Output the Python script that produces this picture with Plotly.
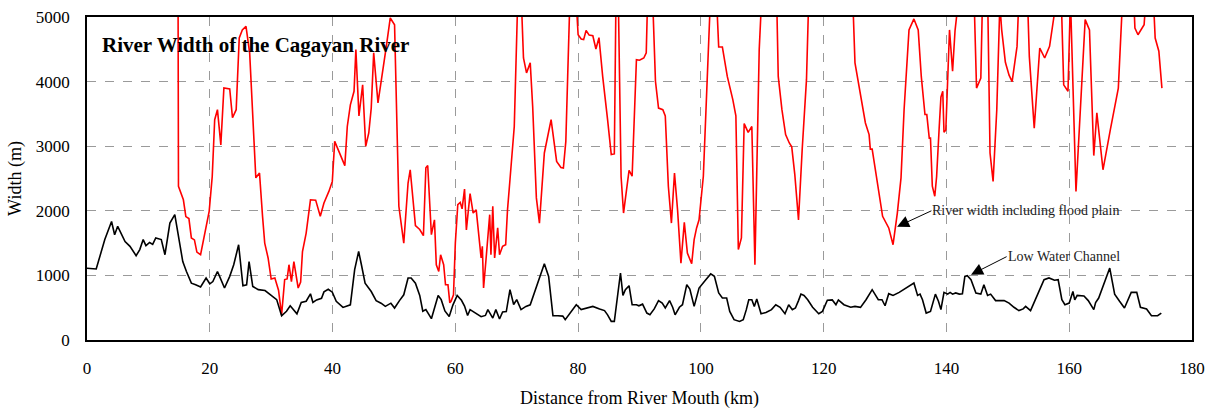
import plotly.graph_objects as go

# Red: River width including flood plain (km, m)
red_km = [14.75, 14.9, 15.7, 16.1, 16.6, 17.0, 17.5, 17.9, 18.5, 19.2, 19.9, 20.4, 20.8, 21.25, 21.8, 22.3, 23.25, 23.7, 24.3, 24.8,
          25.3, 25.9, 26.5, 27.5, 28.1, 28.6, 28.95, 29.5, 30.0, 30.6, 31.2, 31.7, 32.2, 32.6, 32.9, 33.3, 33.7, 34.4, 34.8, 35.1,
          35.7, 36.4, 37.25, 38.0, 38.6, 39.4, 39.96, 40.35, 41.2, 42.0, 42.4, 42.9, 43.5, 43.8, 44.3, 44.9, 45.4, 45.9, 46.3, 46.7,
          47.4, 48.2, 48.76, 49.4, 50.1, 50.8, 51.6, 52.3, 52.65, 53.5, 54.2, 54.8, 55.2, 55.5, 56.1, 56.6, 56.9, 57.3, 57.6, 58.1,
          58.4, 58.8, 59.1, 59.3, 59.7, 60.0, 60.4, 60.8, 61.1, 61.5, 61.8, 62.4, 62.9, 63.4, 63.9, 64.2, 64.4, 64.6, 65.0, 65.6,
          65.8, 66.1, 66.4, 66.9, 67.2, 67.7, 68.2, 68.5, 68.9, 69.6, 70.2, 70.7, 71.1, 71.6, 72.2, 72.6, 73.2, 73.7, 74.5, 75.6,
          76.5, 77.2, 77.6, 78.0, 78.3, 78.7, 79.6, 80.0, 80.5, 80.9, 81.3, 81.8, 82.4, 82.9, 83.4, 84.0, 84.8, 85.4, 85.9, 86.2,
          86.5, 87.0, 87.4, 87.8, 88.3, 88.8, 89.2, 89.5, 90.0, 90.7, 91.1, 91.35, 92.1, 92.6, 93.1, 93.8, 94.2, 94.7, 95.2, 95.7,
          96.2, 96.75, 97.3, 97.8, 98.5, 98.9, 99.3, 99.7, 100.4, 101.1, 101.6, 102.5, 102.9, 103.5, 104.3, 105.2, 105.7, 106.1, 106.6, 107.05,
          107.7, 108.3, 108.8, 109.5, 110.0, 112.3, 112.6, 113.2, 113.8, 114.4, 114.8, 115.3, 115.9, 116.5, 117.2, 117.6, 124.7, 125.1,
          125.9, 126.8, 127.4, 127.6, 127.9, 128.8, 129.6, 130.6, 131.3, 132.0, 132.6, 133.1, 133.9, 134.7, 135.4, 135.9, 136.5, 136.8,
          137.2, 137.4, 137.7, 138.1, 138.4, 138.8, 139.1, 139.4, 139.6, 139.9, 140.2, 140.5, 141.0, 141.4, 142.0, 144.5, 144.9, 145.6,
          145.9, 146.7, 147.1, 147.6, 148.2, 148.7, 149.0, 149.6, 150.2, 150.7, 151.5, 151.8, 153.2, 153.5, 154.3, 155.2, 156.0, 156.8,
          157.5, 157.8, 158.7, 159.1, 159.8, 160.2, 161.1, 162.6, 163.3, 164.0, 164.5, 165.5, 166.7, 168.0, 168.7, 170.5, 170.7, 171.2,
          172.2, 172.5, 173.7, 174.0, 174.6, 175.1]
red_m = [9000, 2380, 2170, 1910, 1880, 1580, 1550, 1360, 1320, 1660, 1990, 2530, 3410, 3565, 3020, 3900, 3885, 3440, 3565, 4675,
         4800, 4855, 4440, 2510, 2585, 1910, 1500, 1270, 945, 960, 770, 390, 935, 945, 1165, 905, 1215, 805, 895, 1370,
         1655, 2170, 2165, 1915, 2120, 2300, 2455, 3075, 2895, 2700, 3305, 3640, 3850, 4495, 3470, 3950, 3000, 3205, 3590, 4445,
         3670, 4235, 4545, 4985, 4880, 2070, 1500, 2430, 2635, 1770, 1710, 1615, 2665, 2700, 1630, 1860, 1165, 1060, 1320, 1165,
         855, 855, 575, 600, 700, 1500, 2095, 2130, 2030, 2335, 1705, 2265, 1965, 2015, 1605, 1270, 1450, 805, 1250, 1940,
         1320, 2070, 1270, 1735, 1320, 1450, 1475, 2015, 2480, 3305, 5400, 5400, 4365, 4135, 4290, 3615, 2200, 1810, 2895, 3410,
         2765, 2670, 2662, 3075, 4080, 5400, 5400, 4725, 4660, 4650, 4790, 4720, 4710, 4505, 4680, 4080, 3410, 2870, 2880, 5600,
         5600, 2530, 1965, 2300, 2625, 2535, 3565, 4340, 4330, 4365, 4445, 5400, 5400, 4005, 3590, 3565, 3470, 2380, 1810, 2585,
         2015, 1190, 1820, 1345, 1180, 1555, 1735, 1860, 2535, 4030, 5400, 5400, 4535, 4535, 4080, 3720, 3470, 1400, 1580, 3350,
         3215, 3305, 1165, 4495, 5500, 5500, 4080, 3565, 3180, 3050, 2990, 2560, 1860, 2945, 4030, 5400, 5400, 4290,
         3850, 3360, 3180, 2955, 2955, 2380, 1915, 1735, 1475, 1965, 2510, 3565, 4800, 4970, 4800, 4080, 3490, 3490,
         3125, 3125, 2380, 2225, 2530, 3255, 3760, 3850, 3215, 3250, 4160, 4800, 4160, 4790, 5300, 5300, 3900, 4055,
         5400, 5400, 2895, 2455, 3565, 5200, 4800, 4300, 4100, 4000, 4545, 5300, 5300, 4390, 3280, 4520, 4365, 4545,
         5000, 5300, 5300, 3950, 3850, 5300, 2300, 4960, 4800, 2855, 3515, 2635, 3255, 3900, 5300, 5300, 4830, 4725,
         4880, 5300, 5300, 4675, 4470, 3900]

# Black: Low Water Channel (km, m)
low_km = [0.0, 1.5, 2.9, 4.0, 4.5, 5.0, 6.2, 7.0, 8.0, 8.6, 9.15, 9.6, 10.2, 10.7, 11.2, 12.1, 12.7, 13.5, 14.3, 14.85,
          15.6, 16.2, 17.0, 17.7, 18.5, 19.4, 20.0, 20.5, 21.25, 21.6, 22.4, 23.25, 23.9, 24.7, 25.4, 26.0, 26.4, 27.0, 27.9, 29.0,
          29.8, 30.9, 31.7, 32.5, 33.1, 33.8, 34.2, 34.9, 35.7, 36.4, 36.8, 37.4, 38.2, 38.6, 39.3, 39.96, 40.6, 41.7, 42.2, 42.9,
          43.6, 44.25, 44.7, 45.3, 46.3, 47.1, 47.9, 48.6, 49.5, 50.1, 50.9, 51.6, 52.3, 52.8, 53.5, 54.2, 54.7, 55.2, 56.1, 56.6,
          57.2, 57.7, 58.3, 59.0, 59.6, 60.3, 61.0, 61.5, 62.0, 62.4, 63.4, 64.2, 64.9, 65.3, 66.1, 66.6, 67.2, 67.7, 68.3, 68.9,
          69.5, 70.0, 70.7, 71.5, 72.2, 72.9, 73.7, 74.5, 75.2, 75.9, 76.7, 77.5, 77.9, 78.9, 79.7, 80.5, 81.3, 82.4, 83.5, 84.3,
          84.8, 85.4, 85.9, 86.5, 86.9, 87.3, 87.7, 88.3, 88.8, 89.5, 89.9, 90.5, 91.2, 91.7, 92.4, 93.1, 93.7, 94.2, 94.9, 95.4,
          95.8, 96.5, 97.0, 97.7, 98.2, 98.9, 99.7, 100.8, 101.6, 102.2, 102.9, 103.5, 104.2, 104.7, 105.4, 106.3, 106.9, 107.4, 107.8, 108.3,
          108.7, 109.1, 109.8, 110.6, 111.5, 112.2, 112.9, 113.7, 114.3, 114.9, 115.4, 115.9, 116.3, 116.8, 117.4, 118.2, 119.2, 119.8, 120.6, 121.4,
          122.0, 122.4, 123.3, 124.4, 125.1, 126.0, 126.9, 127.9, 128.9, 129.5, 130.0, 130.6, 131.3, 132.3, 133.4, 134.7, 135.3, 135.7, 136.1, 136.7,
          137.4, 137.8, 138.2, 138.7, 139.1, 139.6, 140.2, 140.6, 141.0, 141.5, 142.1, 142.6, 143.0, 143.4, 144.0, 144.8, 145.6, 146.1, 146.7, 147.2,
          148.0, 149.4, 150.2, 151.0, 151.8, 152.5, 152.9, 153.7, 154.5, 155.2, 155.9, 156.7, 157.6, 158.2, 158.8, 159.3, 160.0, 160.6, 160.9, 161.3,
          162.4, 163.1, 164.0, 164.3, 164.8, 166.6, 167.4, 168.2, 169.0, 170.1, 171.0, 171.6, 172.6, 173.4, 174.4, 175.0]
low_m = [1110, 1100, 1555, 1835, 1630, 1760, 1525, 1450, 1305, 1400, 1555, 1460, 1510, 1480, 1580, 1555, 1320, 1810, 1940, 1605,
         1215, 1060, 880, 855, 820, 960, 870, 905, 1060, 985, 805, 985, 1165, 1475, 840, 855, 1215, 830, 780, 765,
         700, 625, 375, 445, 530, 445, 405, 580, 600, 715, 580, 620, 645, 745, 785, 740, 600, 505, 520, 545,
         1090, 1370, 1165, 880, 750, 610, 570, 520, 570, 495, 610, 700, 960, 960, 880, 690, 445, 470, 330, 505,
         690, 625, 450, 365, 540, 690, 615, 525, 380, 470, 410, 360, 380, 470, 340, 470, 325, 435, 440, 780,
         550, 625, 470, 520, 545, 730, 935, 1180, 985, 376, 376, 370, 315, 443, 546, 470, 495, 520, 481, 455,
         390, 288, 288, 690, 1037, 690, 779, 841, 546, 546, 530, 555, 417, 390, 481, 610, 571, 495, 610, 507,
         390, 507, 546, 856, 788, 520, 805, 933, 1023, 985, 728, 650, 650, 443, 315, 288, 315, 470, 624, 624,
         520, 635, 407, 425, 470, 546, 505, 407, 546, 470, 495, 610, 710, 690, 624, 507, 407, 443, 615, 620,
         546, 620, 546, 507, 520, 505, 624, 779, 624, 624, 530, 717, 690, 737, 805, 882, 690, 710, 624, 417,
         443, 600, 710, 600, 470, 737, 710, 737, 710, 728, 710, 717, 985, 995, 933, 728, 710, 856, 690, 710,
         610, 610, 571, 507, 455, 481, 520, 455, 624, 779, 933, 960, 925, 933, 624, 546, 571, 752, 620, 690,
         680, 610, 470, 580, 650, 1114, 710, 600, 495, 737, 737, 507, 481, 376, 376, 417]

x_ticks = [0, 20, 40, 60, 80, 100, 120, 140, 160, 180]
y_ticks = [0, 1000, 2000, 3000, 4000, 5000]

title_text = "River Width of the Cagayan River"
red_label = "River width including flood plain"
low_label = "Low Water Channel"

FONT = "Liberation Serif, Times New Roman, serif"

fig = go.Figure()
fig.add_trace(go.Scatter(x=red_km, y=red_m, mode="lines", line=dict(color="#ff0000", width=1.6),
                         name=red_label, showlegend=False))
fig.add_trace(go.Scatter(x=low_km, y=low_m, mode="lines", line=dict(color="#000000", width=1.6),
                         name=low_label, showlegend=False))

axis_common = dict(showgrid=True, gridcolor="#9a9a9a", gridwidth=1, griddash="dash",
                   showline=True, linecolor="#000000", linewidth=1.5, mirror=True,
                   zeroline=False, ticks="outside", tickcolor="rgba(0,0,0,0)", automargin=False,
                   tickfont=dict(family=FONT, size=17, color="#000"))

fig.update_xaxes(range=[0, 180], tickvals=x_ticks, ticklen=12,
                 title=dict(text="Distance from River Mouth (km)", font=dict(family=FONT, size=18, color="#000"),
                            standoff=14),
                 **axis_common)
fig.update_yaxes(range=[0, 5000], tickvals=y_ticks, ticklen=12,
                 title=dict(text="Width (m)", font=dict(family=FONT, size=18, color="#000"), standoff=10),
                 **axis_common)

# annotation arrows: head at the curve, tail at the left edge of the label
fig.add_annotation(x=131.96, y=1754, ax=137.55, ay=2000, axref="x", ayref="y", xref="x", yref="y",
                   text=red_label, xanchor="left", yanchor="middle", borderpad=0,
                   font=dict(family=FONT, size=14, color="#222"),
                   showarrow=True, arrowhead=2, arrowsize=2.4, arrowwidth=1, arrowcolor="#000", standoff=0)
fig.add_annotation(x=144.0, y=1011, ax=149.8, ay=1290, axref="x", ayref="y", xref="x", yref="y",
                   text=low_label, xanchor="left", yanchor="middle", borderpad=0,
                   font=dict(family=FONT, size=14, color="#222"),
                   showarrow=True, arrowhead=2, arrowsize=2.4, arrowwidth=1, arrowcolor="#000", standoff=0)
fig.add_annotation(x=0.0118, y=0.913, xref="paper", yref="paper", text="<b>" + title_text + "</b>",
                   showarrow=False, xanchor="left", yanchor="middle",
                   font=dict(family=FONT, size=21, color="#000"))

fig.update_layout(width=1210, height=410, margin=dict(l=87, r=18, t=17, b=70),
                  plot_bgcolor="white", paper_bgcolor="white")

fig.write_html("out.html", config={"displayModeBar": False},
               post_script="document.body.style.margin='0';document.body.style.overflow='hidden';")
